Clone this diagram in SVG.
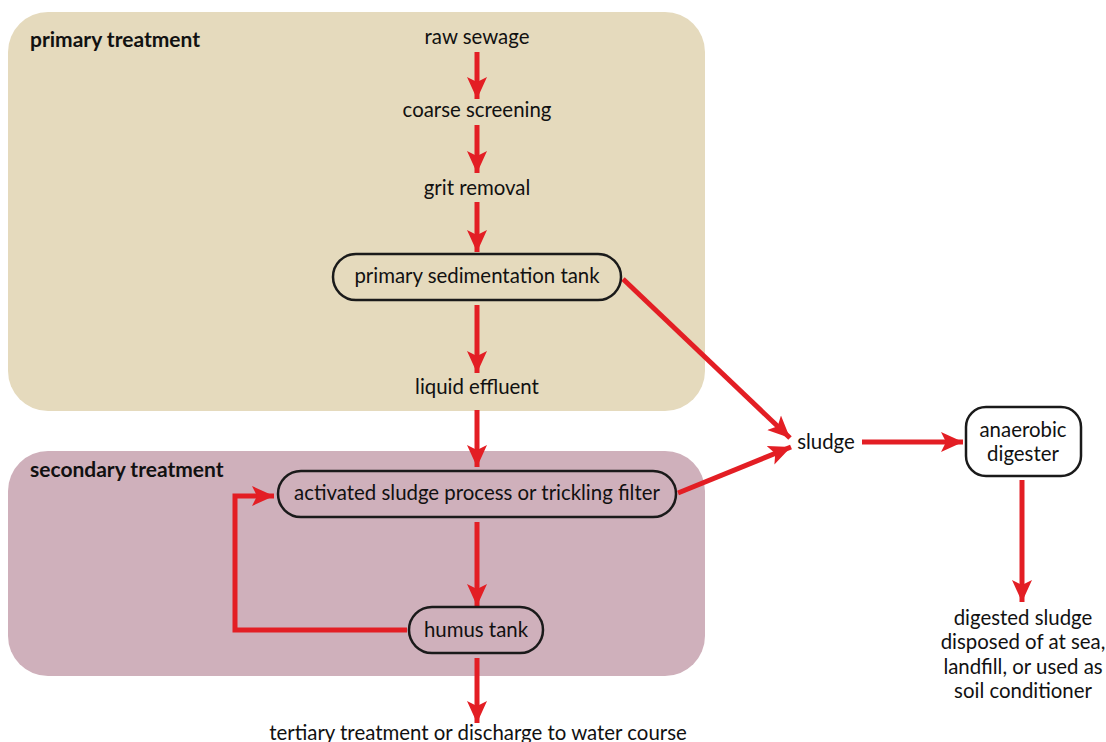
<svg xmlns="http://www.w3.org/2000/svg" width="1106" height="742" viewBox="0 0 1106 742">
<style>
.t{font-family:Lato,"Liberation Sans",sans-serif;font-size:20.4px;fill:#111;text-anchor:middle}
.h{font-family:Lato,"Liberation Sans",sans-serif;font-size:21px;font-weight:bold;fill:#111}
.box{fill:none;stroke:#1a1a1a;stroke-width:2.5}
.c{fill:none;stroke:#E31E24;stroke-width:5;marker-end:url(#ah)}
</style>
<defs>
<marker id="ah" markerUnits="userSpaceOnUse" markerWidth="24" markerHeight="22" refX="22" refY="10" orient="auto" viewBox="0 0 24 20">
<path d="M0,0 L22,10 L0,20 L5,10 Z" fill="#E31E24"/>
</marker>
</defs>
<rect width="1106" height="742" fill="#fff"/>
<g id="primary-region">
<rect x="8" y="12" width="697" height="399" rx="40" fill="#E5DABD"/>
<text class="h" x="30" y="47">primary treatment</text>
</g>
<g id="secondary-region">
<rect x="8" y="451" width="697" height="225" rx="40" fill="#CFB0BB"/>
<text class="h" x="30" y="477">secondary treatment</text>
</g>
<g id="connectors">
<path class="c" d="M477,52 V99"/>
<path class="c" d="M477,125 V173"/>
<path class="c" d="M477,202 V252"/>
<path class="c" d="M477,305 V373"/>
<path class="c" d="M477,410 V467"/>
<path class="c" d="M477,522 V606"/>
<path class="c" d="M477,658 V723"/>
<path class="c" d="M407,630 H235 V496 H274"/>
<path class="c" d="M623,279 L790,438"/>
<path class="c" d="M678,493 L791,447"/>
<path class="c" d="M862,442 H963"/>
<path class="c" d="M1022,480 V602"/>
</g>
<g id="raw-sewage"><text class="t" x="477" y="44">raw sewage</text></g>
<g id="coarse-screening"><text class="t" x="477" y="117">coarse screening</text></g>
<g id="grit-removal"><text class="t" x="477" y="195">grit removal</text></g>
<g id="primary-sedimentation-tank">
<rect class="box" x="333" y="254" width="288" height="46" rx="23"/>
<text class="t" x="477" y="283">primary sedimentation tank</text>
</g>
<g id="liquid-effluent"><text class="t" x="477" y="394">liquid effluent</text></g>
<g id="activated-sludge">
<rect class="box" x="278" y="471" width="398" height="46" rx="23"/>
<text class="t" x="477" y="500">activated sludge process or trickling filter</text>
</g>
<g id="humus-tank">
<rect class="box" x="409" y="607" width="134" height="46" rx="23"/>
<text class="t" x="476" y="637">humus tank</text>
</g>
<g id="tertiary"><text class="t" x="478" y="740">tertiary treatment or discharge to water course</text></g>
<g id="sludge"><text class="t" x="826" y="449">sludge</text></g>
<g id="anaerobic-digester">
<rect class="box" x="966" y="407" width="115" height="69" rx="20"/>
<text class="t" x="1023" y="437">anaerobic</text>
<text class="t" x="1023" y="461">digester</text>
</g>
<g id="digested-sludge">
<text class="t" x="1023" y="625">digested sludge</text>
<text class="t" x="1023" y="649">disposed of at sea,</text>
<text class="t" x="1023" y="674">landfill, or used as</text>
<text class="t" x="1023" y="698">soil conditioner</text>
</g>
</svg>
